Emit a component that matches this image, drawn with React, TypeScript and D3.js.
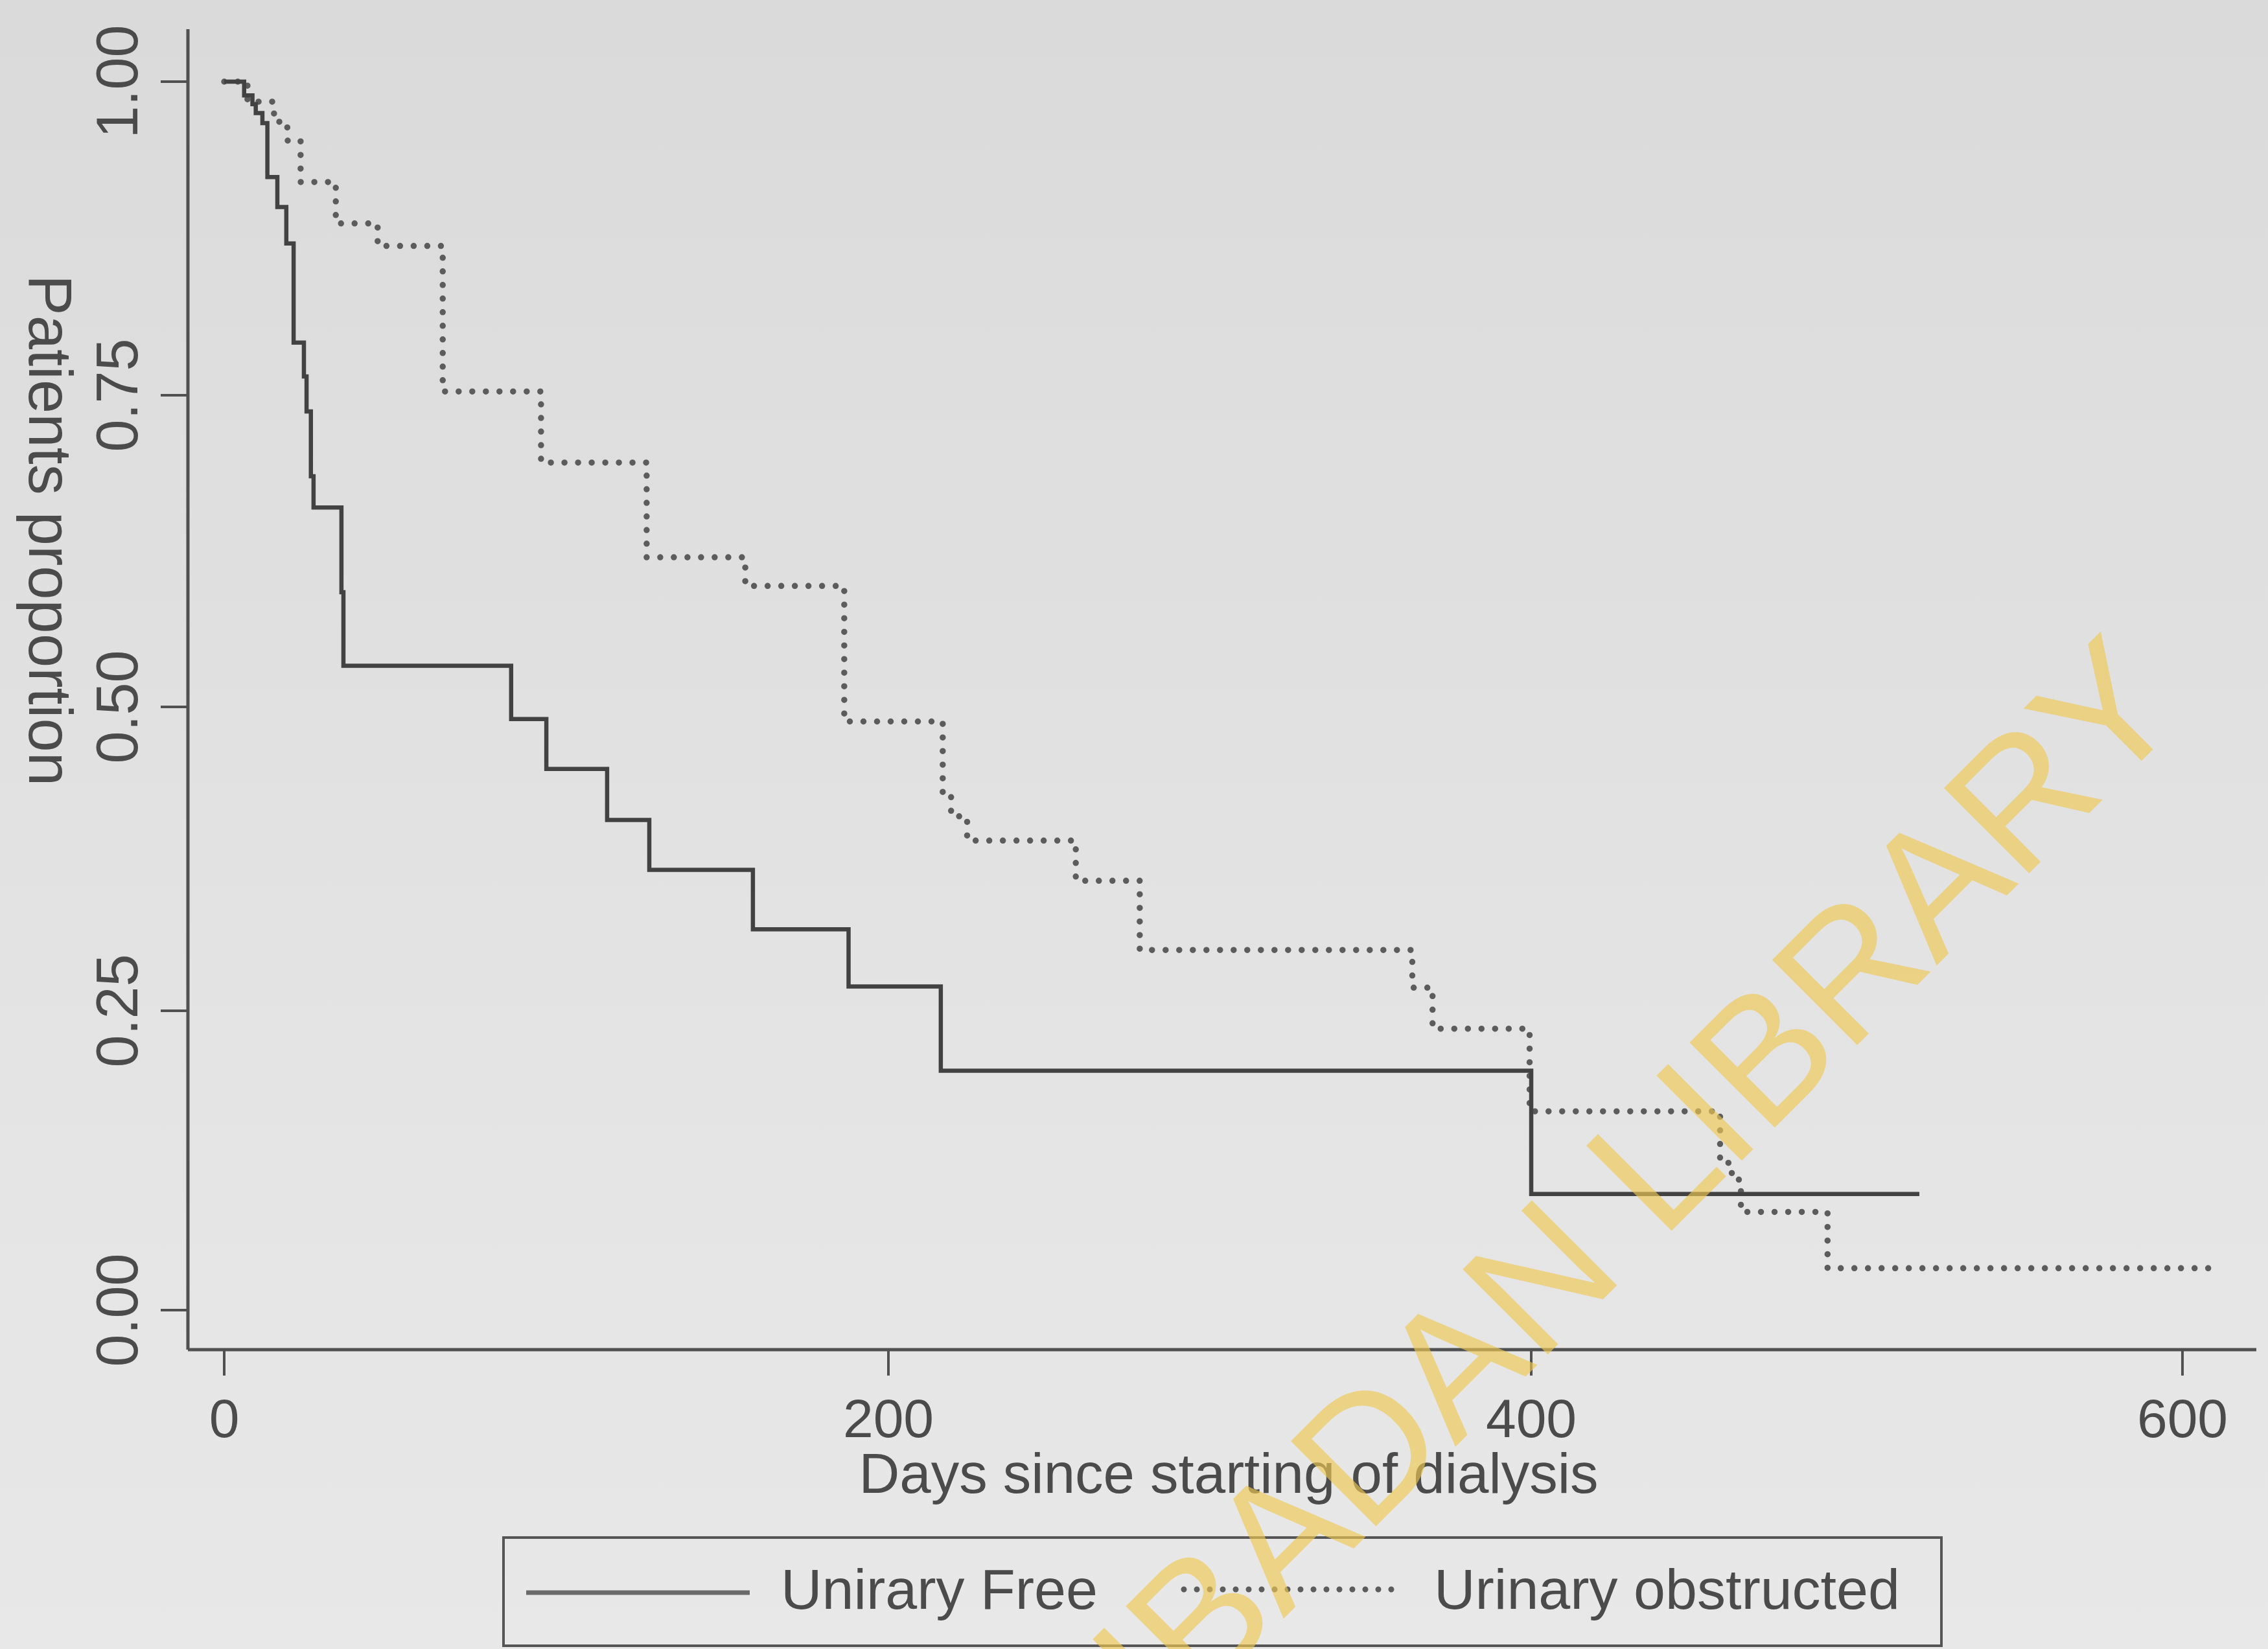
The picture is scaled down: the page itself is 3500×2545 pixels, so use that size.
import React from "react";
import * as d3 from "d3";

// Kaplan–Meier estimates: proportion of patients still event‑free by day
const freeDays = [0, 6, 8.5, 9.5, 11.5, 13, 16, 18.7, 20.9, 24, 24.8, 26.1, 26.9, 35.3, 35.9, 86.4, 97, 115.3, 128, 159.2, 188, 216.3, 400, 519.2];
const freeSurv = [1, 0.989, 0.982, 0.975, 0.967, 0.924, 0.9, 0.871, 0.792, 0.765, 0.737, 0.685, 0.66, 0.592, 0.533, 0.49, 0.449, 0.407, 0.366, 0.317, 0.27, 0.2, 0.097, 0.097];

const obstDays = [0, 7, 15, 19, 23, 33.6, 46.2, 65.8, 95.4, 127.2, 156.9, 186.7, 216.9, 219.5, 224.5, 258.3, 278.2, 363, 369.3, 399.5, 458, 461.6, 464.4, 491, 611];
const obstSurv = [1, 0.984, 0.968, 0.953, 0.92, 0.887, 0.869, 0.753, 0.696, 0.62, 0.597, 0.488, 0.43, 0.41, 0.39, 0.357, 0.3, 0.269, 0.235, 0.166, 0.123, 0.109, 0.082, 0.035, 0.035];

const xTicks = [0, 200, 400, 600];
const yTicks = [0, 0.25, 0.5, 0.75, 1];
const yTickLabels = ["0.00", "0.25", "0.50", "0.75", "1.00"];

const seriesNames = ["Unirary Free", "Urinary obstructed"];

const W = 3500;
const H = 2545;
const FONT = "'Liberation Sans', Arial, Helvetica, sans-serif";
const INK = "#4b4b4b";

export default function App() {
  const x = d3.scaleLinear().domain([0, 200, 400, 600]).range([346, 1371, 2363, 3368]);
  const y = d3.scaleLinear().domain([0, 0.25, 0.5, 0.75, 1]).range([2022, 1560, 1091, 610, 126]);

  const axisX = 290;
  const axisY = 2083;
  const axisTop = 45;
  const axisRight = 3482;

  const line = d3
    .line<[number, number]>()
    .x((d) => x(d[0]))
    .y((d) => y(d[1]))
    .curve(d3.curveStepAfter);

  const freePts: [number, number][] = freeDays.map((d, i) => [d, freeSurv[i]]);
  const obstPts: [number, number][] = obstDays.map((d, i) => [d, obstSurv[i]]);

  return (
    <svg
      width={W}
      height={H}
      viewBox={`0 0 ${W} ${H}`}
      style={{ position: "absolute", left: 0, top: 0, display: "block" }}
      fontFamily={FONT}
    >
      <defs>
        <linearGradient id="paper" x1="0" y1="0" x2="0" y2="1">
          <stop offset="0" stopColor="#dadada" />
          <stop offset="0.5" stopColor="#e2e2e2" />
          <stop offset="1" stopColor="#e8e8e8" />
        </linearGradient>
      </defs>
      <rect x={0} y={0} width={W} height={H} fill="url(#paper)" />

      {/* axes */}
      <line x1={axisX} y1={axisTop} x2={axisX} y2={axisY} stroke="#505050" strokeWidth={5} />
      <line x1={axisX} y1={axisY} x2={axisRight} y2={axisY} stroke="#505050" strokeWidth={5} />

      {yTicks.map((t, i) => (
        <g key={"yt" + t}>
          <line x1={248} x2={axisX} y1={y(t)} y2={y(t)} stroke="#505050" strokeWidth={4} />
          <text
            transform={`translate(212, ${y(t)}) rotate(-90)`}
            textAnchor="middle"
            fontSize={90}
            fill={INK}
          >
            {yTickLabels[i]}
          </text>
        </g>
      ))}

      {xTicks.map((t) => (
        <g key={"xt" + t}>
          <line x1={x(t)} x2={x(t)} y1={axisY} y2={axisY + 40} stroke="#505050" strokeWidth={4} />
          <text x={x(t)} y={2218} textAnchor="middle" fontSize={84} fill={INK}>
            {t}
          </text>
        </g>
      ))}

      <text x={1896} y={2304} textAnchor="middle" fontSize={87} fill={INK}>
        Days since starting of dialysis
      </text>
      <text transform="translate(45, 424) rotate(90)" textAnchor="start" fontSize={94} fill={INK}>
        Patients proportion
      </text>

      {/* survival curves */}
      <path
        d={line(obstPts) ?? ""}
        fill="none"
        stroke="#5c5c5c"
        strokeWidth={9.5}
        strokeDasharray="0 21"
        strokeLinecap="round"
      />
      <path d={line(freePts) ?? ""} fill="none" stroke="#424242" strokeWidth={6.5} />

      {/* legend */}
      <rect x={777} y={2373} width={2219} height={167} fill="none" stroke="#555555" strokeWidth={4} />
      <line x1={812} x2={1157} y1={2458} y2={2458} stroke="#6a6a6a" strokeWidth={7} />
      <text x={1205} y={2483} fontSize={88} fill={INK}>
        {seriesNames[0]}
      </text>
      <line
        x1={1827}
        x2={2157}
        y1={2453}
        y2={2453}
        stroke="#5c5c5c"
        strokeWidth={9}
        strokeDasharray="0 20"
        strokeLinecap="round"
      />
      <text x={2213} y={2483} fontSize={88} fill={INK}>
        {seriesNames[1]}
      </text>

      {/* library stamp across the sheet */}
      <text
        transform="translate(1800, 2679) rotate(-45)"
        fontSize={270}
        fill="rgb(240,200,80)"
        fillOpacity={0.65}
      >
        IBADAN LIBRARY
      </text>
    </svg>
  );
}
